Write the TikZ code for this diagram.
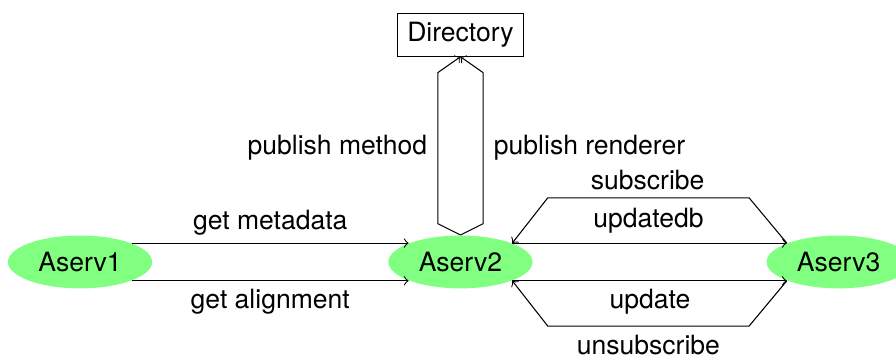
\documentclass[tikz,border=0pt]{standalone}
\usepackage{fontspec}
\setmainfont{TeX Gyre Heros}
\usetikzlibrary{calc,shapes.geometric}

\begin{document}
\begin{tikzpicture}[>=to,
    serv/.style={ellipse, fill=green!50, minimum width=1.91cm, minimum height=0.70cm, inner sep=0pt},
    dirbox/.style={draw, minimum width=1.67cm, minimum height=0.57cm, inner sep=0pt}]

    \useasboundingbox (0,0) rectangle (11.87,4.72);

    % servidores
    \node[serv] (aserv1) at (1.06,1.25) {Aserv1};
    \node[serv] (aserv2) at (6.10,1.25) {Aserv2};
    \node[serv] (aserv3) at (11.11,1.25) {Aserv3};

    % directorio
    \node[dirbox] (directory) at (6.10,4.26) {Directory};

    % Aserv1 -> Aserv2
    \draw[->] (aserv1.20) -- (aserv2.160);
    \draw[->] (aserv1.-20) -- (aserv2.200);

    % Aserv2 -> Directory
    \draw[->] (aserv2.north) -- ++(-0.30,0.15) -- ($(directory.south)+(-0.30,-0.21)$) -- (directory.south);
    \draw[->] (aserv2.north) -- ++(0.30,0.15) -- ($(directory.south)+(0.30,-0.21)$) -- (directory.south);

    % Aserv2 <-> Aserv3
    \draw[->] (aserv3.160) -- ++(-0.5,0.6) -- ($(aserv2.20)+(0.47,0.6)$) -- (aserv2.20);
    \draw[->] (aserv2.20) -- (aserv3.160);
    \draw[->] (aserv2.-20) -- (aserv3.200);
    \draw[->] (aserv3.200) -- ++(-0.5,-0.6) -- ($(aserv2.-20)+(0.47,-0.6)$) -- (aserv2.-20);

    % etiquetas
    \node (metadata) at (3.58,1.77) {get metadata};
    \node (alignment) at (3.58,0.72) {get alignment};
    \node (method) at (4.47,2.76) {publish method};
    \node (renderer) at (7.81,2.76) {publish renderer};
    \node (subscribe) at (8.58,2.33) {subscribe};
    \node (updatedb) at (8.59,1.80) {updatedb};
    \node (update) at (8.61,0.72) {update};
    \node (unsubscribe) at (8.59,0.15) {unsubscribe};

\end{tikzpicture}
\end{document}
